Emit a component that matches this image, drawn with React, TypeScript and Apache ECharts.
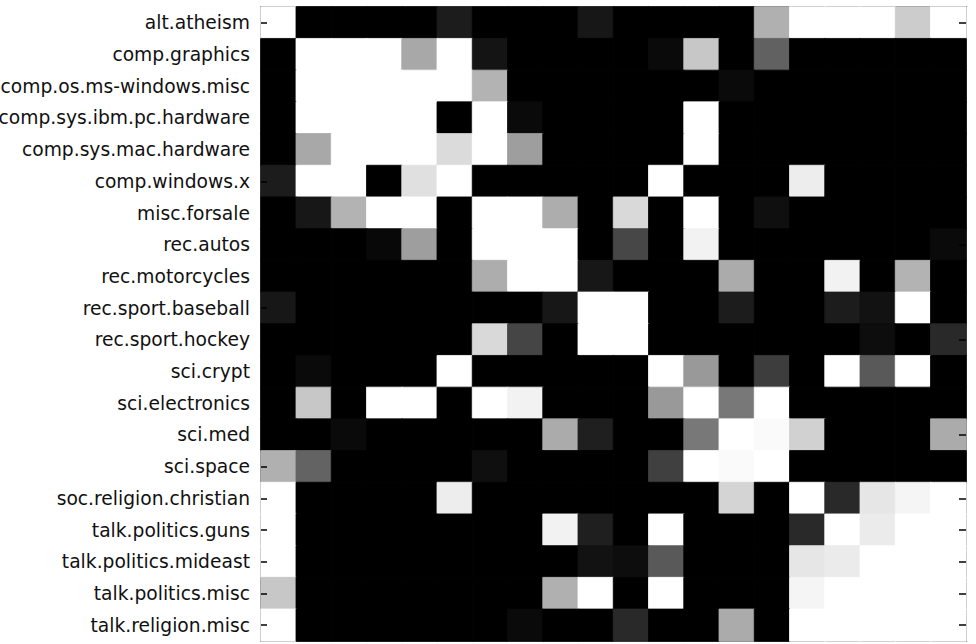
import React, { useEffect, useRef } from "react";
import * as echarts from "echarts";

const categories = [
  "alt.atheism",
  "comp.graphics",
  "comp.os.ms-windows.misc",
  "comp.sys.ibm.pc.hardware",
  "comp.sys.mac.hardware",
  "comp.windows.x",
  "misc.forsale",
  "rec.autos",
  "rec.motorcycles",
  "rec.sport.baseball",
  "rec.sport.hockey",
  "sci.crypt",
  "sci.electronics",
  "sci.med",
  "sci.space",
  "soc.religion.christian",
  "talk.politics.guns",
  "talk.politics.mideast",
  "talk.politics.misc",
  "talk.religion.misc",
];

// each row: values (0 = black, 1 = white) for the 20 columns
const row00 = [1, 0, 0, 0, 0, 0.11, 0, 0, 0, 0.09, 0, 0, 0, 0, 0.69, 1, 1, 1, 0.8, 1];
const row01 = [0, 1, 1, 1, 0.66, 1, 0.08, 0, 0, 0, 0, 0.04, 0.78, 0, 0.38, 0, 0, 0, 0, 0];
const row02 = [0, 1, 1, 1, 1, 1, 0.7, 0, 0, 0, 0, 0, 0, 0.04, 0, 0, 0, 0, 0, 0];
const row03 = [0, 1, 1, 1, 1, 0, 1, 0.04, 0, 0, 0, 0, 1, 0, 0, 0, 0, 0, 0, 0];
const row04 = [0, 0.66, 1, 1, 1, 0.86, 1, 0.62, 0, 0, 0, 0, 1, 0, 0, 0, 0, 0, 0, 0];
const row05 = [0.11, 1, 1, 0, 0.88, 1, 0, 0, 0, 0, 0, 1, 0, 0, 0, 0.93, 0, 0, 0, 0];
const row06 = [0, 0.09, 0.7, 1, 1, 0, 1, 1, 0.68, 0, 0.85, 0, 1, 0, 0.06, 0, 0, 0, 0, 0];
const row07 = [0, 0, 0, 0.03, 0.62, 0, 1, 1, 1, 0, 0.28, 0, 0.95, 0, 0, 0, 0, 0, 0, 0.04];
const row08 = [0, 0, 0, 0, 0, 0, 0.68, 1, 1, 0.09, 0, 0, 0, 0.67, 0, 0, 0.95, 0, 0.7, 0];
const row09 = [0.09, 0, 0, 0, 0, 0, 0, 0, 0.09, 1, 1, 0, 0, 0.11, 0, 0, 0.11, 0.07, 1, 0];
const row10 = [0, 0, 0, 0, 0, 0, 0.85, 0.27, 0, 1, 1, 0, 0, 0, 0, 0, 0, 0.05, 0, 0.16];
const row11 = [0, 0.04, 0, 0, 0, 1, 0, 0, 0, 0, 0, 1, 0.6, 0, 0.24, 0, 1, 0.35, 1, 0];
const row12 = [0, 0.78, 0, 1, 1, 0, 1, 0.95, 0, 0, 0, 0.6, 1, 0.47, 1, 0, 0, 0, 0, 0];
const row13 = [0, 0, 0.04, 0, 0, 0, 0, 0, 0.67, 0.12, 0, 0, 0.47, 1, 0.98, 0.82, 0, 0, 0, 0.67];
const row14 = [0.69, 0.39, 0, 0, 0, 0, 0.06, 0, 0, 0, 0, 0.25, 1, 0.98, 1, 0, 0, 0, 0, 0];
const row15 = [1, 0, 0, 0, 0, 0.93, 0, 0, 0, 0, 0, 0, 0, 0.83, 0, 1, 0.16, 0.9, 0.96, 1];
const row16 = [1, 0, 0, 0, 0, 0, 0, 0, 0.95, 0.12, 0, 1, 0, 0, 0, 0.16, 1, 0.92, 1, 1];
const row17 = [1, 0, 0, 0, 0, 0, 0, 0, 0, 0.07, 0.05, 0.35, 0, 0, 0, 0.9, 0.92, 1, 1, 1];
const row18 = [0.78, 0, 0, 0, 0, 0, 0, 0, 0.69, 1, 0, 1, 0, 0, 0, 0.96, 1, 1, 1, 1];
const row19 = [1, 0, 0, 0, 0, 0, 0, 0.04, 0, 0, 0.16, 0, 0, 0.67, 0, 1, 1, 1, 1, 1];

const rows = [
  row00, row01, row02, row03, row04, row05, row06, row07, row08, row09,
  row10, row11, row12, row13, row14, row15, row16, row17, row18, row19,
];

function gray(v: number): string {
  const g = Math.round(Math.max(0, Math.min(1, v)) * 255);
  return `rgb(${g},${g},${g})`;
}

export default function App() {
  const ref = useRef<HTMLDivElement>(null);

  useEffect(() => {
    if (!ref.current) return;
    const chart = echarts.init(ref.current, null, { renderer: "svg" });

    const data: any[] = [];
    rows.forEach((row, r) => {
      row.forEach((v, c) => {
        const col = gray(v);
        data.push({
          value: [c, r, v],
          itemStyle: { borderColor: col, borderWidth: 0.8 },
        });
      });
    });

    const tickStyle = { color: "#000", width: 1.5 };

    chart.setOption({
      animation: false,
      backgroundColor: "#ffffff",
      grid: {
        left: 261,
        top: 7,
        right: 10,
        bottom: 3,
        containLabel: false,
        outerBoundsMode: "none",
        show: true,
        borderColor: "#666",
        borderWidth: 2,
        backgroundColor: "#ffffff",
      },
      xAxis: {
        type: "category",
        data: categories,
        show: false,
      },
      yAxis: [
        {
          type: "category",
          data: categories,
          inverse: true,
          position: "left",
          axisLine: { show: false },
          axisTick: {
            show: true,
            inside: true,
            length: 6,
            alignWithLabel: true,
            lineStyle: tickStyle,
          },
          axisLabel: {
            margin: 11,
            fontFamily: "DejaVu Sans",
            fontSize: 18.7,
            color: "#111",
          },
          splitLine: { show: false },
          z: 10,
        },
        {
          type: "category",
          data: categories,
          inverse: true,
          position: "right",
          axisLine: { show: false },
          axisTick: {
            show: true,
            inside: true,
            length: 7,
            alignWithLabel: true,
            lineStyle: tickStyle,
          },
          axisLabel: { show: false },
          splitLine: { show: false },
          z: 10,
        },
      ],
      visualMap: {
        type: "continuous",
        show: false,
        min: 0,
        max: 1,
        dimension: 2,
        seriesIndex: 0,
        inRange: { color: ["#000000", "#ffffff"] },
      },
      series: [
        {
          type: "heatmap",
          xAxisIndex: 0,
          yAxisIndex: 0,
          data,
          emphasis: { disabled: true },
          z: 2,
        },
      ],
    });

    return () => {
      chart.dispose();
    };
  }, []);

  return (
    <div
      ref={ref}
      style={{ position: "fixed", left: 0, top: 0, width: 976, height: 644 }}
    />
  );
}
